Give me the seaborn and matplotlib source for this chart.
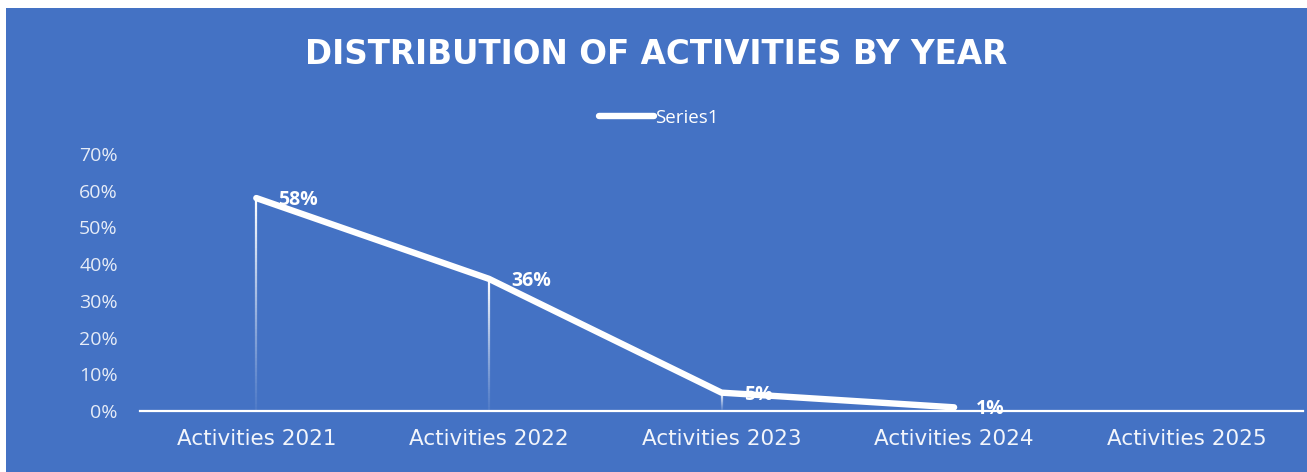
import numpy as np
import pandas as pd
import matplotlib
matplotlib.use("Agg")
import matplotlib.pyplot as plt
from matplotlib.patches import Rectangle
from matplotlib.collections import LineCollection
import seaborn as sns

categories = ["Activities 2021", "Activities 2022", "Activities 2023",
              "Activities 2024", "Activities 2025"]
values = [0.58, 0.36, 0.05, 0.01, np.nan]
series_name = "Series1"
title = "DISTRIBUTION OF ACTIVITIES BY YEAR"
y_ticks = [0.0, 0.1, 0.2, 0.3, 0.4, 0.5, 0.6, 0.7]

BLUE = "#4472C4"
W, H = 1307, 472

sns.set_theme(style="white")
plt.rcParams["font.family"] = ["Open Sans", "DejaVu Sans"]

fig = plt.figure(figsize=(W / 100, H / 100), dpi=100)
fig.patch.set_facecolor("white")
fig.patches.append(Rectangle((6 / W, 0), 1 - 6 / W, 1 - 8 / H,
                             transform=fig.transFigure, facecolor=BLUE,
                             edgecolor="none", zorder=-10))

ax = fig.add_axes([140 / W, (H - 411) / H, (1303 - 140) / W, (411 - 154) / H])
ax.set_facecolor("none")

df = pd.DataFrame({"pos": np.arange(len(categories)), "value": values,
                   "series": series_name})
sns.lineplot(data=df.dropna(), x="pos", y="value", hue="series",
             palette=["white"], linewidth=4.6, ax=ax, legend=True,
             solid_capstyle="round", solid_joinstyle="round", zorder=5)

# fading drop lines from each point down to the axis
for i, v in enumerate(values):
    if np.isnan(v):
        continue
    n = 60
    ys = np.linspace(0, v, n + 1)
    segs = [[(i, ys[k]), (i, ys[k + 1])] for k in range(n)]
    alphas = np.linspace(0.1, 1.0, n) ** 1.2
    cols = [(1, 1, 1, a) for a in alphas]
    ax.add_collection(LineCollection(segs, colors=cols, linewidths=1.6, zorder=3))

# data labels
for i, v in enumerate(values):
    if np.isnan(v):
        continue
    ax.annotate(f"{v:.0%}", (i, v), xytext=(16, -1.5), textcoords="offset points",
                ha="left", va="center", color="white", fontsize=14,
                fontweight="bold", zorder=6)

ax.set_xlim(-0.5, len(categories) - 0.5)
ax.set_ylim(0, 0.7)
ax.set_yticks(y_ticks)
ax.set_yticklabels([f"{t:.0%}" for t in y_ticks])
ax.set_xticks(np.arange(len(categories)))
ax.set_xticklabels(categories)
ax.tick_params(axis="y", colors="#E6ECF7", labelsize=14, length=0, pad=16)
ax.tick_params(axis="x", colors="white", length=0, pad=13)
for lab in ax.get_xticklabels():
    lab.set_color("#F2F5FB")
    lab.set_family(["DejaVu Sans"])
    lab.set_fontsize(15.5)
ax.set_xlabel("")
ax.set_ylabel("")
for side in ["top", "right", "left"]:
    ax.spines[side].set_visible(False)
ax.spines["bottom"].set_color("white")
ax.spines["bottom"].set_linewidth(1.6)
ax.grid(False)

leg = ax.legend(loc="center", bbox_to_anchor=(659 / W, (H - 118) / H),
                bbox_transform=fig.transFigure, frameon=False, fontsize=13.5,
                handlelength=2.9, handletextpad=0.1, labelcolor="white")
for h in leg.get_lines():
    h.set_linewidth(4.6)
    h.set_solid_capstyle("round")

fig.text(656 / W, (H - 54) / H, title, ha="center", va="center",
         color="white", fontsize=23.5, fontweight="bold",
         family=["DejaVu Sans"])

fig.savefig("out.png", dpi=100, facecolor=fig.get_facecolor())
